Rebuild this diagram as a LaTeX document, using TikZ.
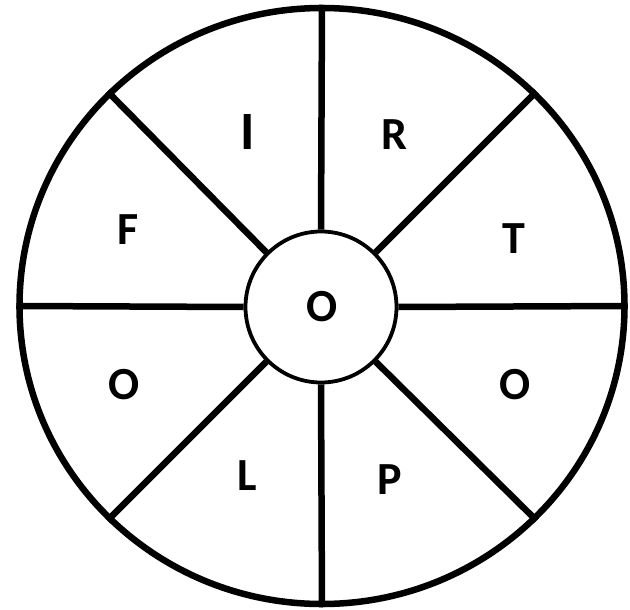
\documentclass[tikz,border=0pt]{standalone}
\usepackage{fontspec}
\setmainfont{Carlito}
\usetikzlibrary{shapes.geometric}
\begin{document}
\begin{tikzpicture}[x=1pt,y=-1pt,
  ring/.style={draw=black, line width=6.5pt, ellipse, inner sep=0pt},
  hub/.style={draw=black, line width=3.8pt, circle, fill=white, inner sep=0pt, minimum size=151pt},
  spoke/.style={draw=black, line width=6.5pt},
  letter/.style={font=\bfseries\fontsize{46}{46}\selectfont, inner sep=0pt}]
\useasboundingbox (0,0) rectangle (630,610);
\node[ring, minimum width=605pt, minimum height=596pt] (outer) at (322,306) {};
\node[hub] (inner) at (321,307) {};
\foreach \a in {0,45,...,315}{
  \draw[spoke] (inner.\a) -- (outer.\a);
}
\node[letter] (c) at (322,307) {O};
\node[letter, font=\bfseries\fontsize{54}{54}\selectfont] (l1) at (248,132) {I};
\node[letter] (l2) at (394,135) {R};
\node[letter] (l3) at (128,230) {F};
\node[letter] (l4) at (514,239) {T};
\node[letter] (l5) at (124,385) {O};
\node[letter] (l6) at (515,385) {O};
\node[letter] (l7) at (247,476) {L};
\node[letter] (l8) at (390,480) {P};
\end{tikzpicture}
\end{document}
